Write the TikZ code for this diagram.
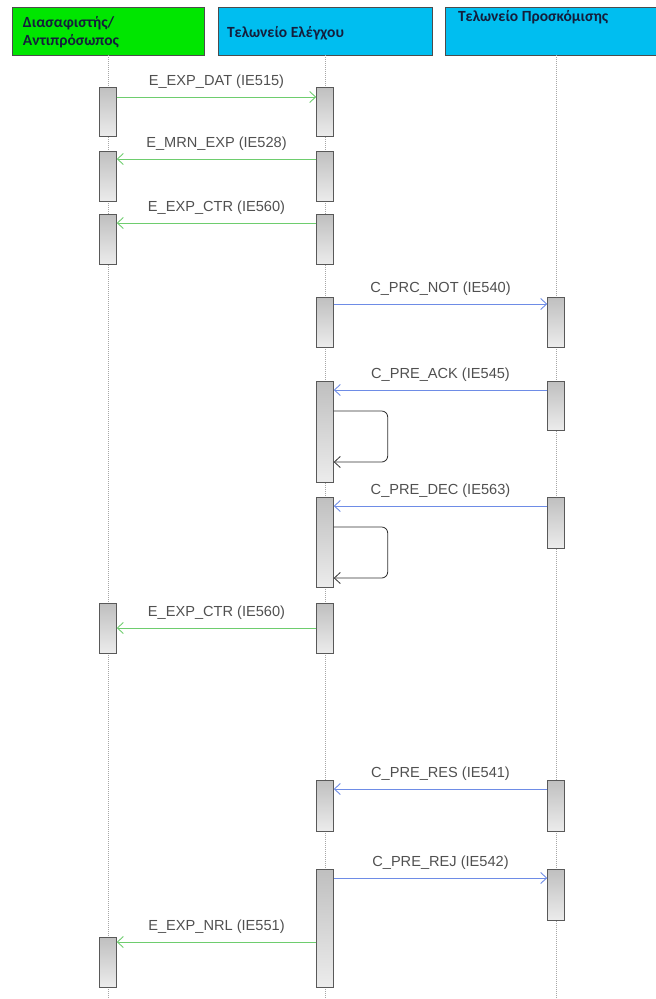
\documentclass[tikz,border=0pt]{standalone}
\usepackage{fontspec}
\setmainfont{Liberation Sans}
\newfontfamily\hdrfont{Carlito}
\usetikzlibrary{arrows.meta}
\definecolor{hdrgreen}{RGB}{0,230,0}
\definecolor{hdrblue}{RGB}{0,190,240}
\definecolor{hdrtext}{RGB}{20,30,60}
\definecolor{msggreen}{RGB}{110,205,110}
\definecolor{msgblue}{RGB}{110,140,230}
\definecolor{lblgray}{RGB}{80,80,80}

\begin{document}
\begin{tikzpicture}[x=1pt,y=-1pt,>={Straight Barb[length=6pt,width=11pt]}]
\tikzstyle{hdr} = [draw=gray!60!black,minimum height=48pt,inner sep=0pt]
\tikzstyle{htext} = [font=\hdrfont\bfseries\fontsize{15.5}{18}\selectfont,text=hdrtext,align=left,inner sep=0pt,anchor=west]
\tikzstyle{lifeline} = [gray!70,dash pattern=on 1pt off 1pt,line width=0.8pt]
\tikzstyle{act} = [draw=gray!70!black,top color=gray!50,bottom color=gray!15,minimum width=17pt,inner sep=0pt,anchor=north]
\tikzstyle{gmsg} = [msggreen,line width=0.9pt,arrows=->]
\tikzstyle{bmsg} = [msgblue,line width=0.9pt,arrows=->]
\tikzstyle{selfmsg} = [gray!40!black,line width=0.8pt,rounded corners=6pt,arrows=->]
\tikzstyle{mlabel} = [font=\fontsize{14.6}{16}\selectfont,text=lblgray,inner sep=0pt,above=8pt,midway]
\clip (0,0) rectangle (656,999);

% participants
\node[hdr,fill=hdrgreen,minimum width=192pt] (pA) at (108,31) {};
\node[hdr,fill=hdrblue,minimum width=214pt] (pB) at (325,31) {};
\node[hdr,fill=hdrblue,minimum width=222pt] (pC) at (556,31) {};
\node[htext] at ([xshift=11pt,yshift=-1pt]pA.west) {Διασαφιστής/\\Αντιπρόσωπος};
\node[htext] at ([xshift=9pt,yshift=-2pt]pB.west) {Τελωνείο Ελέγχου};
\node[htext] at ([xshift=13pt,yshift=14pt]pC.west) {Τελωνείο Προσκόμισης};

\draw[lifeline] (pA.south) -- ++(0,950);
\draw[lifeline] (pB.south) -- ++(0,950);
\draw[lifeline] (pC.south) -- ++(0,950);

% activations
\node[act,minimum height=49pt] (a1) at (108,87) {};
\node[act,minimum height=50pt] (a2) at (108,151) {};
\node[act,minimum height=50pt] (a3) at (108,214) {};
\node[act,minimum height=50pt] (a4) at (108,603) {};
\node[act,minimum height=50pt] (a5) at (108,937) {};
\node[act,minimum height=49pt] (b1) at (325,87) {};
\node[act,minimum height=50pt] (b2) at (325,151) {};
\node[act,minimum height=50pt] (b3) at (325,214) {};
\node[act,minimum height=50pt] (b4) at (325,297) {};
\node[act,minimum height=101pt] (b5) at (325,381) {};
\node[act,minimum height=90pt] (b6) at (325,497) {};
\node[act,minimum height=50pt] (b7) at (325,603) {};
\node[act,minimum height=51pt] (b8) at (325,780) {};
\node[act,minimum height=118pt] (b9) at (325,869) {};
\node[act,minimum height=50pt] (c1) at (556,297) {};
\node[act,minimum height=49pt] (c2) at (556,381) {};
\node[act,minimum height=51pt] (c3) at (556,497) {};
\node[act,minimum height=51pt] (c4) at (556,780) {};
\node[act,minimum height=51pt] (c5) at (556,869) {};

% messages
\draw[gmsg] ([yshift=-10pt]a1.north east) -- ([yshift=-10pt]b1.north west) node[mlabel] {E\_EXP\_DAT (IE515)};
\draw[gmsg] ([yshift=-8pt]b2.north west) -- ([yshift=-8pt]a2.north east) node[mlabel] {E\_MRN\_EXP (IE528)};
\draw[gmsg] ([yshift=-9pt]b3.north west) -- ([yshift=-9pt]a3.north east) node[mlabel] {E\_EXP\_CTR (IE560)};
\draw[bmsg] ([yshift=-7pt]b4.north east) -- ([yshift=-7pt]c1.north west) node[mlabel] {C\_PRC\_NOT (IE540)};
\draw[bmsg] ([yshift=-9pt]c2.north west) -- ([yshift=-9pt]b5.north east) node[mlabel] {C\_PRE\_ACK (IE545)};
\draw[selfmsg] ([yshift=-30pt]b5.north east) -- ++(54,0) -- ++(0,51) -- ([yshift=-81pt]b5.north east);
\draw[bmsg] ([yshift=-9pt]c3.north west) -- ([yshift=-9pt]b6.north east) node[mlabel] {C\_PRE\_DEC (IE563)};
\draw[selfmsg] ([yshift=-30pt]b6.north east) -- ++(54,0) -- ++(0,51) -- ([yshift=-81pt]b6.north east);
\draw[gmsg] ([yshift=-25pt]b7.north west) -- ([yshift=-25pt]a4.north east) node[mlabel] {E\_EXP\_CTR (IE560)};
\draw[bmsg] ([yshift=-9pt]c4.north west) -- ([yshift=-9pt]b8.north east) node[mlabel] {C\_PRE\_RES (IE541)};
\draw[bmsg] ([yshift=-9pt]b9.north east) -- ([yshift=-9pt]c5.north west) node[mlabel] {C\_PRE\_REJ (IE542)};
\coordinate (m10) at ([yshift=-5pt]a5.north east);
\draw[gmsg] (m10 -| b9.west) -- (m10) node[mlabel] {E\_EXP\_NRL (IE551)};
\end{tikzpicture}
\end{document}
